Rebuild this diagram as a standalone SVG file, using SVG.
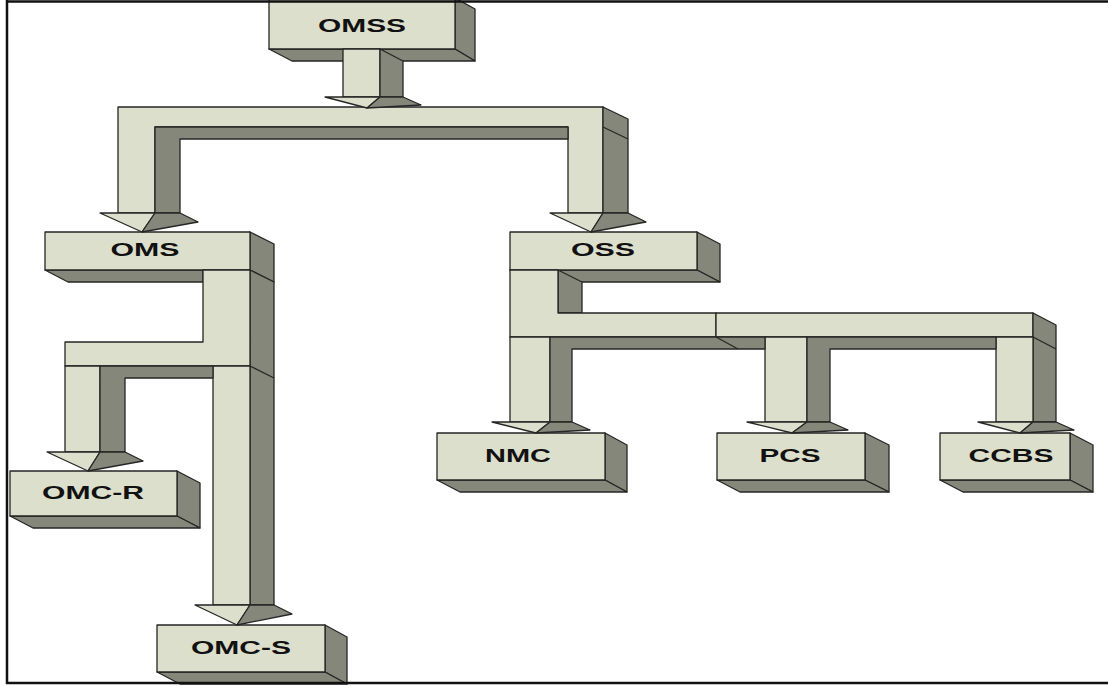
<svg xmlns="http://www.w3.org/2000/svg" width="1108" height="686" viewBox="0 0 1108 686">
<style>
.lt{fill:#dcdfcb;stroke:#262626;stroke-width:1.3;stroke-linejoin:round}
.dk{fill:#85877a;stroke:#262626;stroke-width:1.3;stroke-linejoin:round}
.ln{fill:none;stroke:#262626;stroke-width:1.3}
.lbl{font-family:"Liberation Sans",Arial,sans-serif;font-weight:bold;font-size:18px;fill:#111;text-anchor:middle}
.frame{stroke:#111;stroke-width:2.5;fill:none}
</style>
<rect width="1108" height="686" fill="#fff"/>
<g id="nodes">
<g id="OMSS">
<polygon class="dk" points="455,-2 475,9 475,61 455,49"/>
<polygon class="dk" points="269,49 455,49 475,61 292,61"/>
<rect class="lt" x="269" y="-2" width="186" height="51"/>
<text class="lbl" x="362" y="32" textLength="88" lengthAdjust="spacingAndGlyphs">OMSS</text>
</g>
<g id="OMS">
<polygon class="dk" points="250,232 274,244 274,282 250,270"/>
<polygon class="dk" points="45,270 203,270 203,282 68,282"/>
<rect class="lt" x="45" y="232" width="205" height="38"/>
<text class="lbl" x="145" y="256" textLength="69" lengthAdjust="spacingAndGlyphs">OMS</text>
</g>
<g id="OSS">
<polygon class="dk" points="697,232 720,244 720,282 697,270"/>
<polygon class="dk" points="510,270 697,270 720,282 533,282"/>
<rect class="lt" x="510" y="232" width="187" height="38"/>
<text class="lbl" x="603" y="256" textLength="64" lengthAdjust="spacingAndGlyphs">OSS</text>
</g>
<g id="OMC-R">
<polygon class="dk" points="177,471 200,483 200,528 177,516"/>
<polygon class="dk" points="10,516 177,516 200,528 33,528"/>
<rect class="lt" x="10" y="471" width="167" height="45"/>
<text class="lbl" x="93" y="499" textLength="102" lengthAdjust="spacingAndGlyphs">OMC-R</text>
</g>
<g id="OMC-S">
<polygon class="dk" points="325,625 347,637 347,684 325,672"/>
<polygon class="dk" points="157,672 325,672 347,684 180,684"/>
<rect class="lt" x="157" y="625" width="168" height="47"/>
<text class="lbl" x="241" y="654" textLength="100" lengthAdjust="spacingAndGlyphs">OMC-S</text>
</g>
<g id="NMC">
<polygon class="dk" points="605,433 627,445 627,492 605,480"/>
<polygon class="dk" points="437,480 605,480 627,492 460,492"/>
<rect class="lt" x="437" y="433" width="168" height="47"/>
<text class="lbl" x="518" y="462" textLength="66" lengthAdjust="spacingAndGlyphs">NMC</text>
</g>
<g id="PCS">
<polygon class="dk" points="865,433 889,445 889,492 865,480"/>
<polygon class="dk" points="717,480 865,480 889,492 740,492"/>
<rect class="lt" x="717" y="433" width="148" height="47"/>
<text class="lbl" x="790" y="462" textLength="61" lengthAdjust="spacingAndGlyphs">PCS</text>
</g>
<g id="CCBS">
<polygon class="dk" points="1070,433 1093,445 1093,492 1070,480"/>
<polygon class="dk" points="940,480 1070,480 1093,492 963,492"/>
<rect class="lt" x="940" y="433" width="130" height="47"/>
<text class="lbl" x="1011" y="462" textLength="85" lengthAdjust="spacingAndGlyphs">CCBS</text>
</g>
</g>
<g id="connectors">
<path class="lt" d="M118,107 H603 V213 H568 V127 H155 V213 H118 Z"/>
<polygon class="dk" points="603,107 628,119 628,213 603,213"/>
<line class="ln" x1="603" y1="127" x2="628" y2="139"/>
<polygon class="dk" points="155,127 568,127 568,139 180,139 180,213 155,213"/>
<rect class="lt" x="343" y="49" width="37" height="48"/>
<polygon class="dk" points="380,49 403,61 403,97 380,97"/>
<polygon class="lt" points="325,97 380,97 367,108"/>
<polygon class="dk" points="380,97 403,97 421,105 367,108"/>
<polygon class="lt" points="100,213 155,213 142,232"/>
<polygon class="dk" points="155,213 180,213 198,222 142,232"/>
<polygon class="lt" points="550,213 603,213 591,232"/>
<polygon class="dk" points="603,213 628,213 646,222 591,232"/>
<polygon class="dk" points="250,270 274,282 274,605 250,605"/>
<line class="ln" x1="250" y1="366" x2="274" y2="378"/>
<polygon class="lt" points="203,270 250,270 250,366 65,366 65,342 203,342"/>
<rect class="lt" x="65" y="366" width="35" height="86"/>
<rect class="lt" x="213" y="366" width="37" height="239"/>
<polygon class="dk" points="100,366 213,366 213,378 125,378 125,452 100,452"/>
<polygon class="lt" points="47,452 100,452 88,471"/>
<polygon class="dk" points="100,452 125,452 143,461 88,471"/>
<polygon class="lt" points="195,605 250,605 237,625"/>
<polygon class="dk" points="250,605 274,605 292,614 237,625"/>
<polygon class="dk" points="558,270 582,282 582,313 558,313"/>
<polygon class="lt" points="510,270 558,270 558,313 716,313 716,337 510,337"/>
<rect class="lt" x="716" y="313" width="317" height="24"/>
<polygon class="dk" points="1033,313 1056,325 1056,422 1033,422"/>
<line class="ln" x1="1033" y1="337" x2="1056" y2="349"/>
<rect class="lt" x="510" y="337" width="40" height="85"/>
<rect class="lt" x="765" y="337" width="42" height="85"/>
<rect class="lt" x="996" y="337" width="37" height="85"/>
<polygon class="dk" points="550,337 765,337 765,349 572,349 572,422 550,422"/>
<line class="ln" x1="716" y1="337" x2="738" y2="349"/>
<polygon class="dk" points="807,337 996,337 996,349 830,349 830,422 807,422"/>
<polygon class="lt" points="492,422 550,422 536,433"/>
<polygon class="dk" points="550,422 572,422 590,430 536,433"/>
<polygon class="lt" points="747,422 807,422 792,433"/>
<polygon class="dk" points="807,422 830,422 848,430 792,433"/>
<polygon class="lt" points="978,422 1033,422 1020,433"/>
<polygon class="dk" points="1033,422 1056,422 1074,430 1020,433"/>
</g>
<g id="frame">
<path class="frame" d="M7,0 V683 H1108 M7,1.5 H1108"/>
</g>
</svg>
